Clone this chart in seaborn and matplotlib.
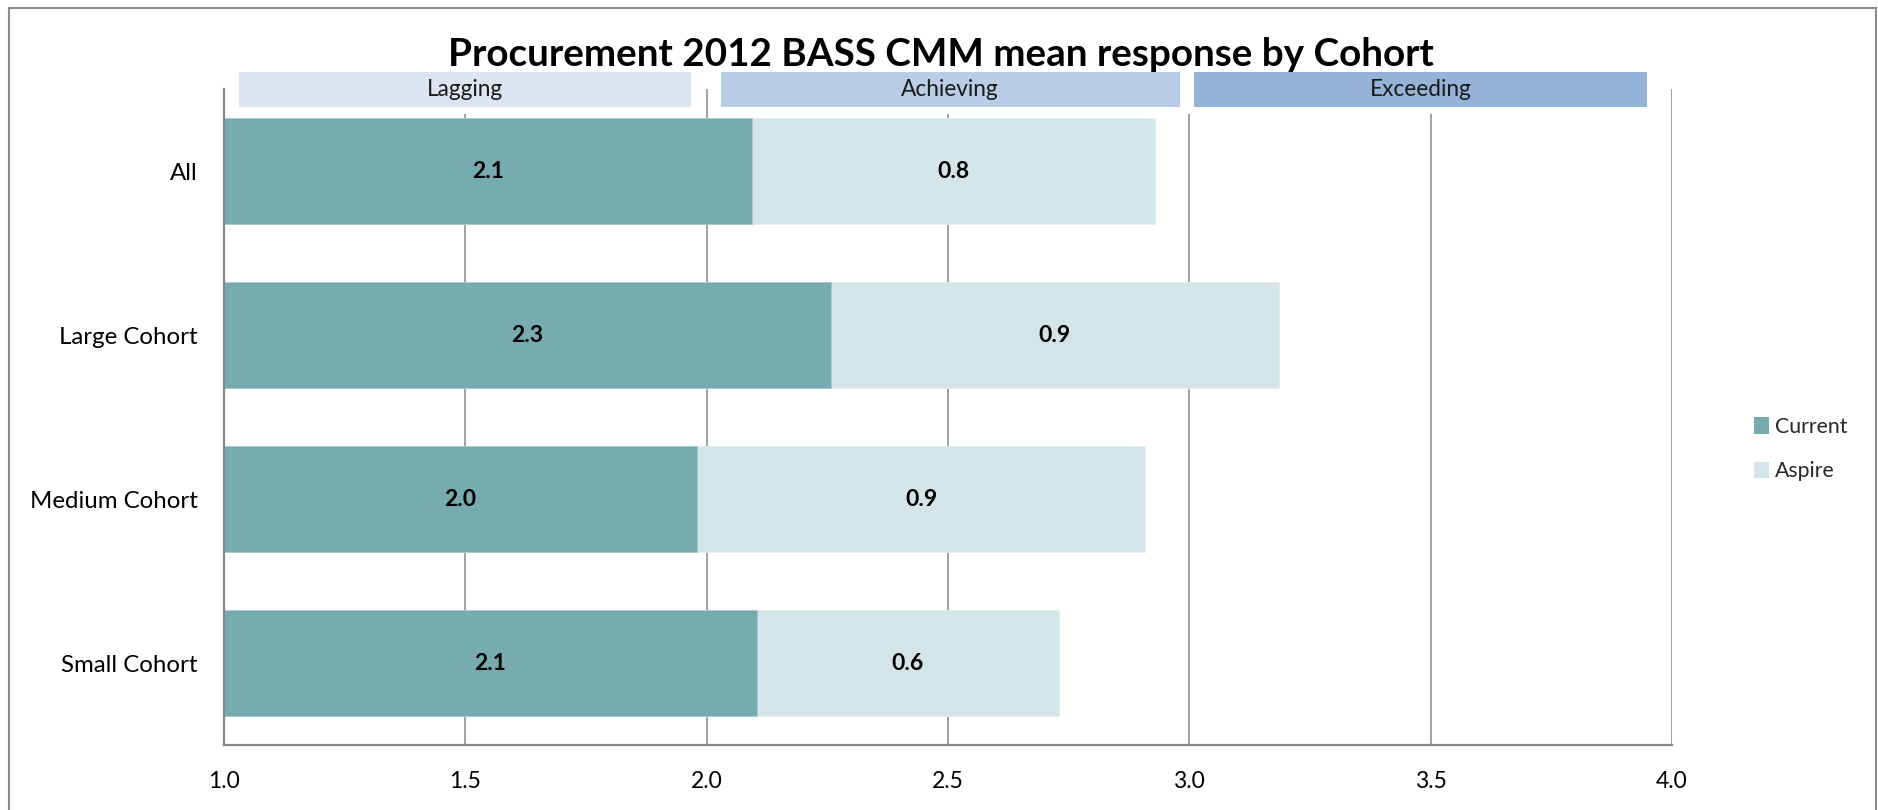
import matplotlib
matplotlib.use("Agg")
import matplotlib.pyplot as plt
from matplotlib.patches import Patch, Rectangle
import seaborn as sns
import pandas as pd

# ---- data ----
categories = ["All", "Large Cohort", "Medium Cohort", "Small Cohort"]
current = [2.094, 2.257, 1.980, 2.104]
aspire = [0.835, 0.929, 0.928, 0.626]
series_names = ["Current", "Aspire"]
bands = ["Lagging", "Achieving", "Exceeding"]
band_start = [1.031, 2.029, 3.009]
band_end = [1.967, 2.980, 3.948]
x_ticks = [1.0, 1.5, 2.0, 2.5, 3.0, 3.5, 4.0]
title = "Procurement 2012 BASS CMM mean response by Cohort"

# ---- style ----
c_current = "#76ABB0"
c_aspire = "#D3E5E8"
band_colors = ["#DCE6F2", "#B9CDE5", "#95B3D7"]
gray = "#878787"

sns.set_style("white")
plt.rcParams["font.family"] = ["Lato", "DejaVu Sans"]

W, H = 1878, 810
fig = plt.figure(figsize=(W / 100, H / 100), dpi=100)
ax = fig.add_axes([224 / W, 1 - 745 / H, (1672 - 224) / W, (745 - 89) / H])

df = pd.DataFrame({"cat": categories, "current": current, "aspire": aspire})
df["total"] = df["current"] + df["aspire"]

sns.barplot(data=df, x="total", y="cat", orient="h", color=c_aspire, saturation=1,
            width=0.645, ax=ax, edgecolor="#e6eff0", linewidth=0.6, zorder=2)
sns.barplot(data=df, x="current", y="cat", orient="h", color=c_current, saturation=1,
            width=0.645, ax=ax, edgecolor="#a9cbce", linewidth=0.6, zorder=2)

ax.set_xlim(x_ticks[0], x_ticks[-1])
ax.set_ylim(len(categories) - 0.5, -0.5)
ax.set_xlabel("")
ax.set_ylabel("")

# bar value labels
x0 = ax.get_xlim()[0]
for i, (c, a) in enumerate(zip(current, aspire)):
    ax.text((x0 + c) / 2, i, f"{c:.1f}", ha="center", va="center",
            fontsize=16.5, fontweight="bold", color="black", zorder=4)
    ax.text(c + a / 2, i, f"{a:.1f}", ha="center", va="center",
            fontsize=16.5, fontweight="bold", color="black", zorder=4)

# grid and spines
ax.set_xticks(x_ticks)
ax.set_xticklabels([f"{t:.1f}" for t in x_ticks])
ax.xaxis.grid(True, color=gray, linewidth=1.1, zorder=0)
ax.set_axisbelow(True)
for s in ["top", "right"]:
    ax.spines[s].set_visible(False)
for s in ["left", "bottom"]:
    ax.spines[s].set_color(gray)
    ax.spines[s].set_linewidth(1.6)
ax.tick_params(axis="x", direction="out", length=5, width=1.2, color=gray,
               pad=14, labelsize=16.5, labelcolor="black")
ax.set_yticks(range(len(categories)))
ax.set_yticks([i - 0.5 for i in range(len(categories) + 1)], minor=True)
ax.tick_params(axis="y", which="major", length=0, pad=19, labelsize=17.3, labelcolor="black")
ax.tick_params(axis="y", which="minor", direction="out", length=5.5, width=1.2, color=gray)

# header bands
tr = ax.get_xaxis_transform()
ph = 745 - 89
def yf(px):
    return (745 - px) / ph
for name, s, e, col in zip(bands, band_start, band_end, band_colors):
    ax.add_patch(Rectangle((s - 0.012, yf(114)), (e - s) + 0.024, yf(70) - yf(114),
                           transform=tr, facecolor="white", edgecolor="none",
                           clip_on=False, zorder=3))
    ax.add_patch(Rectangle((s, yf(107)), e - s, yf(72) - yf(107), transform=tr,
                           facecolor=col, edgecolor="none", clip_on=False, zorder=3.5))
    ax.text((s + e) / 2, yf(89.5), name, transform=tr, ha="center", va="center",
            fontsize=16.3, color="#1a1a1a", zorder=4, clip_on=False)

# title
fig.text(941 / W, 1 - 55 / H, title, ha="center", va="center",
         fontsize=27.8, fontweight="bold", color="black")

# legend
handles = [Patch(facecolor=c_current, edgecolor="none"),
           Patch(facecolor=c_aspire, edgecolor="none")]
fig.legend(handles, series_names, loc="upper left",
           bbox_to_anchor=(1754 / W, 1 - 417 / H), frameon=False,
           fontsize=15.3, handlelength=0.7, handleheight=0.8, handletextpad=0.3,
           labelspacing=1.15, borderpad=0, borderaxespad=0)

# outer chart border
fig.patches.append(Rectangle((9 / W, -0.02), (1876 - 9) / W, 1 - 8 / H + 0.02,
                             transform=fig.transFigure, fill=False,
                             edgecolor="#8a8a8a", linewidth=1.5))

fig.savefig("out.png", dpi=100)
